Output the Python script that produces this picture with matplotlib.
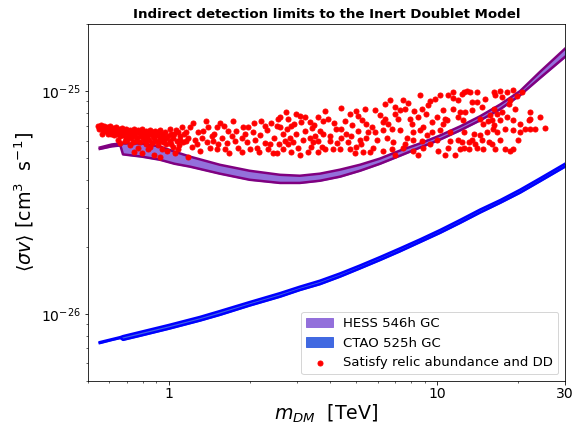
import numpy as np
import matplotlib
matplotlib.use("Agg")
import matplotlib.pyplot as plt
from matplotlib.ticker import FixedLocator, FixedFormatter, NullFormatter, LogLocator

# sigma v values are given in units of 1e-26 cm^3/s
UNIT = 1e-26

# HESS 546h GC limit band
hess_mass = [0.553, 0.613, 0.66, 0.675, 0.793, 0.926, 1.05, 1.2, 1.55, 2.0, 2.6, 3.08,
             3.66, 4.35, 5.16, 6.13, 7.28, 8.64, 10.26, 12.18, 14.47, 17.18, 20.4, 24.2, 30.0]
hess_upper = [5.58, 5.76, 5.82, 5.82, 5.82, 5.64, 5.35, 5.08, 4.67, 4.39, 4.21, 4.17,
              4.26, 4.44, 4.67, 4.98, 5.41, 5.82, 6.32, 6.94, 7.71, 8.70, 10.0, 12.2, 15.5]
hess_lower = [5.50, 5.65, 5.70, 5.20, 5.08, 4.92, 4.72, 4.58, 4.26, 4.00, 3.87, 3.87,
              3.96, 4.13, 4.39, 4.72, 5.13, 5.58, 6.06, 6.66, 7.39, 8.29, 9.59, 11.45, 14.25]

# CTAO 525h GC sensitivity band
cta_mass = [0.553, 0.613, 0.66, 0.675, 0.779, 1.0, 1.305, 1.55, 2.0, 2.6, 3.08, 3.66,
            4.35, 5.16, 6.13, 7.28, 8.64, 10.26, 12.18, 14.47, 17.18, 20.4, 24.2, 30.0]
cta_upper = [0.747, 0.770, 0.787, 0.795, 0.829, 0.892, 0.969, 1.03, 1.13, 1.24, 1.325, 1.41,
             1.52, 1.65, 1.80, 1.97, 2.16, 2.38, 2.64, 2.94, 3.24, 3.61, 4.06, 4.72]
cta_lower = [0.740, 0.764, 0.780, 0.765, 0.797, 0.858, 0.933, 0.99, 1.09, 1.195, 1.28, 1.36,
             1.47, 1.60, 1.745, 1.91, 2.10, 2.31, 2.56, 2.85, 3.15, 3.50, 3.94, 4.58]

# IDM points that satisfy relic abundance and direct detection
idm_mass = [
    0.544, 0.558, 0.572, 0.587, 0.602, 0.618, 0.634, 0.651, 0.668, 0.691, 0.715, 0.741,
    0.766, 0.793, 0.821, 0.849, 0.887, 0.926, 0.966, 1.009, 1.062, 1.118,
    0.548, 0.567, 0.582, 0.597, 0.613, 0.629, 0.645, 0.662, 0.679, 0.703, 0.728, 0.753,
    0.779, 0.807, 0.835, 0.864, 0.902, 0.942, 0.992, 1.044, 1.099,
    0.563, 0.592, 0.624, 0.656, 0.691, 0.721, 0.759, 0.800, 0.842, 0.879, 0.918, 0.958,
    1.009, 1.071, 1.128,
    0.645, 0.685, 0.734, 0.779, 0.821, 0.864, 0.910, 0.974, 1.035, 1.090,
    0.741, 0.793, 0.835, 0.879, 0.926, 0.983, 1.053, 1.177,
    1.198, 1.283, 1.398, 1.510, 1.603, 1.888, 2.204, 2.281, 2.321, 2.551, 2.529, 1.177,
    1.219, 1.272, 1.328, 1.386, 1.447, 1.523, 1.510, 1.577, 1.646, 1.718, 1.763, 1.809,
    1.872, 1.954, 2.005, 2.058, 2.130, 2.281, 2.341, 2.444, 2.529, 2.465, 1.778, 1.872,
    1.157, 1.250, 1.339, 1.459, 1.660, 1.921, 2.093, 2.185, 2.381, 2.573, 1.971, 1.472,
    1.617, 1.305,
    2.595, 2.780, 2.978, 3.082, 3.217, 3.109, 3.358, 2.853, 3.820, 3.920, 3.755, 4.384,
    4.736, 4.986, 5.072, 4.537, 5.435, 2.595, 2.663, 2.828, 2.978, 3.217, 3.163, 3.358,
    3.506, 3.660, 3.755, 3.988, 4.200, 4.384, 4.576, 4.777, 5.072, 5.161, 5.530, 2.709,
    2.902, 3.447, 3.598, 3.988, 4.656, 5.206, 2.663, 2.853, 3.030, 3.302, 3.598, 3.820,
    4.093, 4.346, 4.736, 4.944, 5.297, 5.625, 3.387,
    6.680, 7.470, 7.800, 8.640, 9.420, 9.830, 10.26, 10.99, 11.48, 11.98, 12.39, 5.872,
    6.973, 7.280, 7.600, 8.790, 9.260, 10.53, 11.48, 12.18, 6.399, 6.973, 7.930, 8.490,
    10.00, 10.89, 11.98, 5.720, 6.290, 6.570, 8.070, 8.860, 9.580, 10.53, 12.50, 5.872,
    6.290, 7.280, 8.140, 8.640, 9.580, 10.26, 11.18, 5.975, 6.510, 6.860, 7.730, 8.140,
    8.790, 10.00, 11.18, 11.98, 5.770, 6.290, 6.790, 7.470, 8.140, 8.860, 10.09, 10.99,
    12.18, 12.39,
    12.61, 13.28, 14.11, 16.32, 16.46, 18.24, 19.20, 13.51, 14.11, 14.72, 16.32, 18.56,
    18.72, 22.20, 12.72, 13.51, 14.47, 15.77, 17.48, 18.24, 19.20, 22.02, 16.04, 17.18,
    14.85, 16.32, 17.93, 19.20, 20.40, 21.30, 22.20, 25.30, 12.61, 13.74, 15.37, 16.75,
    13.51, 14.47, 15.64, 17.18, 13.17, 13.86, 12.61, 13.17, 14.11, 14.85, 16.04, 17.93,
    18.72, 19.20, 17.18, 16.75, 22.20, 20.40, 16.18, 11.48, 12.95,
    # second pass over the denser parts
    0.553, 0.577, 0.607, 0.640, 0.673, 0.709, 0.747, 0.786, 0.828, 0.872, 0.910, 0.950,
    1.018, 1.081, 1.138, 0.577, 0.607, 0.640, 0.673, 0.709, 0.747, 0.786, 0.828, 0.872,
    0.926, 0.974, 1.035, 1.099, 0.697, 0.753, 0.814, 0.887, 0.950, 1.018, 1.157, 0.656,
    0.715, 0.849, 0.766, 0.942, 1.081,
    1.229, 1.374, 1.550, 1.733, 2.075, 2.401, 2.733, 2.927, 3.417, 3.598, 4.128, 4.817,
    5.249, 1.422, 1.675, 2.166, 2.780, 3.082, 3.722, 4.237, 4.986, 2.756, 3.476, 4.384,
    5.435, 6.130, 7.150, 8.210, 9.100, 6.790, 9.180, 10.71, 7.600, 9.420, 6.399, 5.388,
    6.973, 8.490, 10.71, 11.67,
    15.10, 17.48, 19.88, 20.76, 15.50, 19.54, 24.20, 14.72, 16.46, 20.06, 23.20,
]
idm_sigmav = [
    6.94, 7.02, 6.94, 6.87, 6.94, 6.80, 6.87, 6.73, 6.80, 6.73, 6.66, 6.73,
    6.66, 6.73, 6.59, 6.66, 6.59, 6.66, 6.52, 6.73, 6.66, 6.87,
    6.73, 6.66, 6.73, 6.59, 6.66, 6.52, 6.59, 6.45, 6.52, 6.45, 6.39, 6.52,
    6.39, 6.45, 6.32, 6.45, 6.32, 6.39, 6.26, 6.39, 6.26,
    6.45, 6.39, 6.32, 6.26, 6.19, 6.19, 6.13, 6.19, 6.06, 6.13, 6.00, 6.06,
    5.94, 6.00, 5.88,
    6.06, 5.94, 5.88, 5.88, 5.76, 5.82, 5.70, 5.76, 5.64, 5.70,
    5.35, 5.30, 5.47, 5.19, 5.08, 5.41, 5.30, 5.08,
    6.87, 6.52, 6.87, 6.87, 6.94, 6.87, 7.32, 6.94, 6.66, 7.47, 6.94, 6.19,
    5.64, 5.76, 6.19, 5.88, 6.26, 5.76, 5.47, 6.19, 5.82, 6.26, 5.94, 5.58,
    5.35, 5.88, 5.47, 6.52, 5.58, 5.82, 5.47, 5.30, 5.30, 6.19, 6.59, 6.19,
    6.52, 6.06, 6.59, 6.00, 6.59, 6.39, 6.06, 6.32, 5.76, 5.76, 6.87, 6.45,
    5.47, 5.41,
    7.63, 7.47, 7.87, 7.71, 7.63, 7.24, 7.24, 6.94, 8.12, 7.47, 7.32, 8.38,
    7.87, 8.12, 7.71, 7.32, 7.09, 6.87, 6.39, 6.19, 6.39, 6.59, 6.06, 6.19,
    6.26, 6.59, 6.39, 6.26, 6.73, 6.73, 6.39, 6.26, 6.59, 6.06, 6.52, 5.94,
    5.88, 5.88, 5.94, 5.94, 5.88, 5.76, 5.47, 5.35, 5.58, 5.35, 5.35, 5.47,
    5.52, 5.47, 5.47, 5.30, 5.35, 5.35, 5.64,
    9.10, 9.10, 8.82, 9.59, 9.01, 9.20, 9.59, 9.59, 9.30, 9.10, 9.69, 8.21,
    8.47, 8.21, 8.29, 8.29, 8.64, 8.21, 8.29, 8.04, 7.47, 7.87, 7.47, 7.63,
    7.63, 7.39, 7.63, 6.87, 7.24, 7.09, 7.09, 6.87, 7.24, 7.09, 7.39, 6.52,
    6.66, 6.66, 6.52, 6.66, 6.52, 6.66, 6.52, 6.06, 6.19, 5.88, 6.19, 6.06,
    6.00, 6.06, 6.00, 6.06, 5.58, 5.41, 5.47, 5.58, 5.41, 5.58, 5.41, 5.58,
    5.47, 5.88,
    9.90, 9.90, 9.90, 9.90, 9.59, 9.90, 10.10, 8.92, 8.92, 8.47, 8.29, 8.73,
    9.10, 8.04, 8.04, 8.21, 7.47, 7.79, 8.04, 7.63, 7.39, 7.39, 7.39, 7.39,
    7.09, 7.02, 6.73, 6.66, 7.09, 6.73, 6.73, 6.80, 6.52, 6.39, 6.52, 6.52,
    6.06, 6.32, 5.88, 6.06, 5.88, 5.76, 5.58, 5.47, 5.58, 5.47, 5.76, 5.47,
    5.41, 5.47, 10.0, 7.87, 7.47, 6.52, 6.73, 9.90, 10.0,
    # second pass over the denser parts
    6.87, 6.80, 6.80, 6.73, 6.66, 6.59, 6.59, 6.52, 6.52, 6.52, 6.52, 6.26,
    6.45, 6.52, 6.39, 6.59, 6.45, 6.39, 6.32, 6.32, 6.26, 6.26, 6.19, 6.26,
    6.19, 6.13, 6.13, 6.06, 6.06, 6.00, 6.00, 5.94, 5.88, 5.76, 6.00, 5.82,
    5.70, 5.64, 5.58, 5.52, 5.47,
    7.17, 7.32, 7.17, 7.32, 7.17, 7.17, 8.04, 7.09, 6.80, 7.63, 7.17, 7.02,
    7.39, 5.58, 5.30, 5.35, 5.76, 5.19, 5.64, 5.82, 5.64, 6.73, 7.02, 6.13,
    6.13, 7.79, 7.47, 8.12, 7.87, 6.73, 6.32, 7.47, 5.76, 5.76, 8.73, 8.29,
    5.19, 5.19, 5.19, 5.19,
    9.20, 9.39, 9.49, 9.90, 7.32, 8.29, 7.63, 6.06, 5.47, 6.06, 6.73,
]

hm = np.array(hess_mass)
cm = np.array(cta_mass)

fig = plt.figure(figsize=(573 / 72, 427 / 72), dpi=72)
ax = fig.add_axes([0.1536, 0.1077, 0.8325, 0.8361])

ax.fill_between(hm, np.array(hess_lower) * UNIT, np.array(hess_upper) * UNIT,
                color="mediumpurple", label="HESS 546h GC")
ax.plot(hm, np.array(hess_upper) * UNIT, color="purple", lw=2.5)
ax.plot(hm, np.array(hess_lower) * UNIT, color="purple", lw=2.5)

ax.fill_between(cm, np.array(cta_lower) * UNIT, np.array(cta_upper) * UNIT,
                color="royalblue", label="CTAO 525h GC")
ax.plot(cm, np.array(cta_upper) * UNIT, color="blue", lw=2.5)
ax.plot(cm, np.array(cta_lower) * UNIT, color="blue", lw=2.5)

ax.scatter(idm_mass, np.array(idm_sigmav) * UNIT, s=25, color="red", zorder=3,
           label="Satisfy relic abundance and DD")

ax.set_xscale("log")
ax.set_yscale("log")
ax.set_xlim(0.5, 30)
ax.set_ylim(5e-27, 2e-25)

ax.xaxis.set_major_locator(FixedLocator([1, 10, 30]))
ax.xaxis.set_major_formatter(FixedFormatter(["1", "10", "30"]))
ax.xaxis.set_minor_locator(LogLocator(base=10, subs=np.arange(2, 10) / 1.0))
ax.xaxis.set_minor_formatter(NullFormatter())
ax.yaxis.set_minor_formatter(NullFormatter())
ax.tick_params(axis="both", which="major", labelsize=14)
ax.tick_params(axis="x", which="major", pad=2.5)

ax.set_xlabel(r"$m_{DM}$  [TeV]", fontsize=19, labelpad=2)
ax.set_ylabel(r"$\langle\sigma v\rangle$ [cm$^3$  s$^{-1}$]", fontsize=19)
ax.set_title("Indirect detection limits to the Inert Doublet Model",
             fontsize=13.4, fontweight="bold")

ax.legend(loc="lower right", fontsize=13.2)

fig.savefig("out.png", dpi=72)
